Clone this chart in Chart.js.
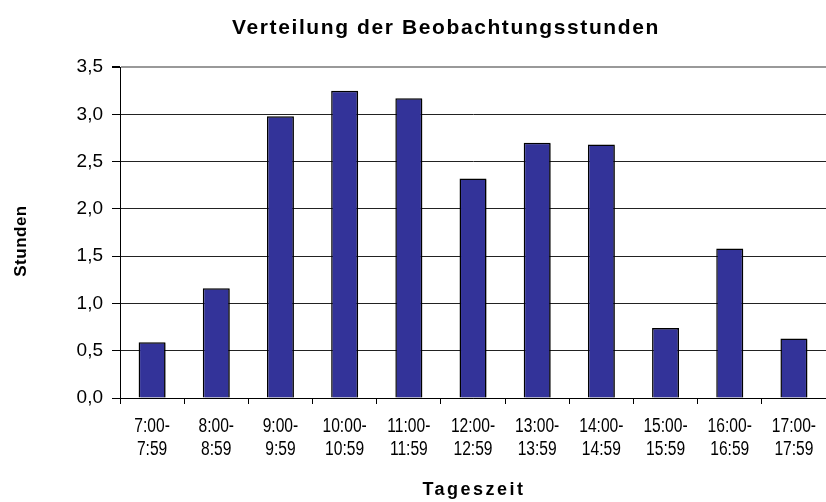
<!DOCTYPE html>
<html>
<head>
<meta charset="utf-8">
<script src="https://cdn.jsdelivr.net/npm/chart.js@4.4.0/dist/chart.umd.min.js"></script>
<style>
  html, body { margin: 0; padding: 0; background: #fff; }
</style>
</head>
<body>
<canvas id="chart" width="826" height="502"></canvas>
<script>
// --- Data ---
const chartTitle = "Verteilung der Beobachtungsstunden";
const xTitle = "Tageszeit";
const yTitle = "Stunden";
const timeSlots = [
  ["7:00-", "7:59"], ["8:00-", "8:59"], ["9:00-", "9:59"], ["10:00-", "10:59"],
  ["11:00-", "11:59"], ["12:00-", "12:59"], ["13:00-", "13:59"], ["14:00-", "14:59"],
  ["15:00-", "15:59"], ["16:00-", "16:59"], ["17:00-", "17:59"]
];
const hours = [0.59, 1.16, 2.98, 3.25, 3.17, 2.32, 2.70, 2.68, 0.74, 1.58, 0.63];
const yMin = 0;
const yMax = 3.5;
const yStep = 0.5;

const baseFont = "'Liberation Sans', Arial, sans-serif";

Chart.defaults.font.family = baseFont;
Chart.defaults.color = "#000";

// texts drawn by hand: letter-spaced titles and the narrow x labels
const textPlugin = {
  id: "texts",
  afterDraw(chart) {
    const ctx = chart.ctx;
    const area = chart.chartArea;
    const xs = chart.scales.x;
    ctx.save();
    ctx.fillStyle = "#000";
    ctx.textAlign = "center";
    ctx.textBaseline = "middle";

    // chart title
    ctx.font = "bold 21px " + baseFont;
    ctx.letterSpacing = "1.6px";
    ctx.fillText(chartTitle, 446, 28);

    // x axis title
    ctx.font = "bold 18px " + baseFont;
    ctx.letterSpacing = "2.5px";
    ctx.fillText(xTitle, (area.left + area.right) / 2 + 1, 490);

    // y axis title
    ctx.save();
    ctx.translate(21, 241);
    ctx.rotate(-Math.PI / 2);
    ctx.font = "bold 17px " + baseFont;
    ctx.letterSpacing = "0.5px";
    ctx.fillText(yTitle, 0, 0);
    ctx.restore();

    // x tick labels, squeezed horizontally
    ctx.font = "20px " + baseFont;
    ctx.letterSpacing = "0px";
    timeSlots.forEach((lines, i) => {
      const x = xs.getPixelForTick(i);
      lines.forEach((t, j) => {
        ctx.save();
        ctx.translate(x, area.bottom + 28 + j * 23);
        ctx.scale(0.78, 1);
        ctx.fillText(t, 0, 0);
        ctx.restore();
      });
    });
    ctx.restore();
  }
};

// light drop shadow on bars
const shadowPlugin = {
  id: "barShadow",
  beforeDatasetsDraw(chart) {
    const ctx = chart.ctx;
    ctx.save();
    ctx.shadowColor = "rgba(0,0,0,0.3)";
    ctx.shadowOffsetX = 2;
    ctx.shadowOffsetY = 1;
    ctx.shadowBlur = 0;
  },
  afterDatasetsDraw(chart) {
    chart.ctx.restore();
  }
};

new Chart(document.getElementById("chart"), {
  type: "bar",
  data: {
    labels: timeSlots,
    datasets: [{
      data: hours,
      backgroundColor: "#333399",
      borderColor: "#000",
      borderWidth: 1.5,
      categoryPercentage: 1,
      barPercentage: 0.42
    }]
  },
  options: {
    responsive: false,
    animation: false,
    layout: { padding: { top: 67, left: 0, right: 0, bottom: 0 } },
    plugins: {
      legend: { display: false },
      title: { display: false },
      tooltip: { enabled: false }
    },
    scales: {
      x: {
        afterFit: (s) => { s.height = 104; },
        grid: { drawOnChartArea: false, drawTicks: true, tickLength: 6, color: "#000" },
        border: { color: "#000", width: 1 },
        ticks: { display: false, autoSkip: false }
      },
      y: {
        min: yMin, max: yMax,
        afterFit: (s) => { s.width = 120; },
        ticks: {
          stepSize: yStep, padding: 9, color: "#000",
          font: { size: 19 },
          callback: (v) => v.toFixed(1).replace(".", ",")
        },
        grid: {
          color: (c) => c.tick && c.tick.value === yMax ? "#999" : "#222",
          lineWidth: (c) => c.tick && c.tick.value === yMax ? 2 : 1,
          tickColor: "#000", tickLength: 8
        },
        border: { color: "#000", width: 1 }
      }
    }
  },
  plugins: [shadowPlugin, textPlugin]
});
</script>
</body>
</html>
